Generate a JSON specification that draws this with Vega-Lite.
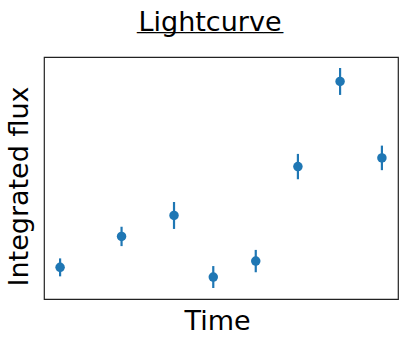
{
  "$schema": "https://vega.github.io/schema/vega-lite/v6.json",
  "width": 354,
  "height": 242,
  "autosize": "none",
  "padding": {"left": 44, "top": 57, "right": 5, "bottom": 39},
  "background": "white",
  "config": {
    "font": "DejaVu Sans",
    "view": {"stroke": "#222222", "strokeWidth": 1.2}
  },
  "title": {
    "text": "Lightcurve",
    "subtitle": "_______________",
    "font": "DejaVu Sans",
    "fontSize": 27,
    "fontWeight": "normal",
    "color": "black",
    "subtitleFont": "DejaVu Sans",
    "subtitleFontSize": 19.5,
    "subtitleColor": "black",
    "subtitlePadding": -23,
    "anchor": "middle",
    "dx": -11,
    "offset": 20
  },
  "data": {
    "values": [
      {"time": 0.00, "flux": 3.10, "err": 0.90},
      {"time": 1.91, "flux": 6.20, "err": 0.97},
      {"time": 3.54, "flux": 8.30, "err": 1.35},
      {"time": 4.76, "flux": 2.13, "err": 1.10},
      {"time": 6.08, "flux": 3.73, "err": 1.12},
      {"time": 7.39, "flux": 13.20, "err": 1.27},
      {"time": 8.70, "flux": 21.73, "err": 1.35},
      {"time": 10.00, "flux": 14.07, "err": 1.23}
    ]
  },
  "encoding": {
    "x": {
      "field": "time",
      "type": "quantitative",
      "scale": {"domain": [-0.5, 10.5], "nice": false, "zero": false},
      "axis": {
        "title": "Time",
        "titleFont": "DejaVu Sans",
        "titleFontSize": 27,
        "titleFontWeight": "normal",
        "titleColor": "black",
        "titlePadding": 9,
        "titleX": 173,
        "labels": false,
        "ticks": false,
        "domain": false,
        "grid": false
      }
    },
    "y": {
      "field": "flux",
      "type": "quantitative",
      "scale": {"domain": [-0.07, 24.18], "nice": false, "zero": false},
      "axis": {
        "title": "Integrated flux",
        "titleFont": "DejaVu Sans",
        "titleFontSize": 27,
        "titleFontWeight": "normal",
        "titleColor": "black",
        "titlePadding": 11,
        "titleY": 129,
        "labels": false,
        "ticks": false,
        "domain": false,
        "grid": false
      }
    }
  },
  "layer": [
    {
      "mark": {"type": "errorbar", "ticks": false, "thickness": 2.2, "color": "#1f77b4"},
      "encoding": {
        "yError": {"field": "err"}
      }
    },
    {
      "mark": {"type": "point", "filled": true, "size": 90, "opacity": 1, "color": "#1f77b4"}
    }
  ]
}
